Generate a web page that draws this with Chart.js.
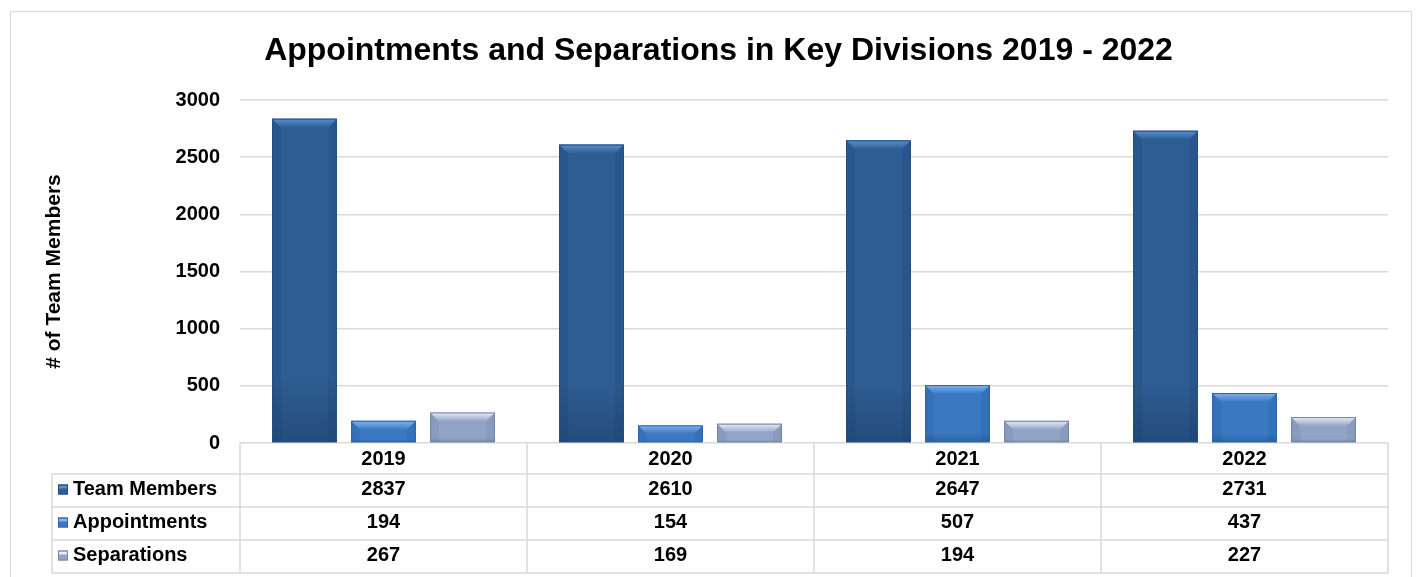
<!DOCTYPE html>
<html>
<head>
<meta charset="utf-8">
<title>Appointments and Separations in Key Divisions 2019 - 2022</title>
<script src="https://cdn.jsdelivr.net/npm/chart.js@4.4.1/dist/chart.umd.min.js"></script>
<style>
  html, body { margin: 0; padding: 0; background: #fff; overflow: hidden; }
  #frame { position: absolute; left: 10px; top: 11px; width: 1400px; height: 600px; border: 1px solid #d9d9d9; }
  #wrap { position: absolute; left: 0; top: 0; width: 1419px; height: 577px; }
</style>
</head>
<body>
<div id="frame"></div>
<div id="wrap"><canvas id="divisionChart"></canvas></div>
<script>
const years = ['2019', '2020', '2021', '2022'];
const teamMembers = [2837, 2610, 2647, 2731];
const appointments = [194, 154, 507, 437];
const separations = [267, 169, 194, 227];
const seriesNames = ['Team Members', 'Appointments', 'Separations'];

const FONT = 'Arial, "Liberation Sans", sans-serif';

// face / light top bevel / darker side strips / outline, one per series
const barLooks = [
    { face: '#2d5d93', top: '#5b8fd0', side: 'rgba(0, 20, 50, 0.08)', bottom: 'rgba(0, 15, 40, 0.2)', edge: '#244d7c' },
    { face: '#3a78c2', top: '#86b4ea', side: 'rgba(0, 30, 80, 0.07)', bottom: 'rgba(0, 25, 70, 0.2)', edge: '#2f64a6' },
    { face: '#92a4c6', top: '#e6edf8', side: 'rgba(30, 45, 80, 0.07)', bottom: 'rgba(20, 35, 70, 0.18)', edge: '#75869f' }
];

function poly(ctx, pts) {
    ctx.beginPath();
    ctx.moveTo(pts[0][0], pts[0][1]);
    for (let i = 1; i < pts.length; i++) ctx.lineTo(pts[i][0], pts[i][1]);
    ctx.closePath();
    ctx.fill();
}

// Excel style bevel drawn over each bar element
const bevelBars = {
    id: 'bevelBars',
    afterDatasetsDraw(chart) {
        const ctx = chart.ctx;
        chart.data.datasets.forEach((ds, i) => {
            const look = barLooks[i];
            chart.getDatasetMeta(i).data.forEach(bar => {
                const L = bar.x - bar.width / 2, R = bar.x + bar.width / 2;
                const T = bar.y, B = bar.base;
                const b = Math.min(9, (B - T) / 2, bar.width / 2);
                ctx.save();
                // soft lower shading of the face
                const fg = ctx.createLinearGradient(0, T + b, 0, B);
                fg.addColorStop(0, 'rgba(255,255,255,0)');
                fg.addColorStop(0.8, 'rgba(0,0,0,0)');
                fg.addColorStop(1, look.bottom);
                ctx.fillStyle = fg;
                ctx.fillRect(L, T + b, R - L, B - T - b);
                ctx.fillStyle = look.side;
                poly(ctx, [[L, T], [L + b, T + b], [L + b, B], [L, B]]);
                poly(ctx, [[R, T], [R - b, T + b], [R - b, B], [R, B]]);
                const g = ctx.createLinearGradient(0, T, 0, T + b);
                g.addColorStop(0, look.top);
                g.addColorStop(1, look.face);
                ctx.fillStyle = g;
                poly(ctx, [[L, T], [R, T], [R - b, T + b], [L + b, T + b]]);
                ctx.strokeStyle = look.edge;
                ctx.lineWidth = 1;
                ctx.strokeRect(L + 0.5, T + 0.5, R - L - 1, B - T - 1);
                ctx.restore();
            });
        });
    }
};

// data table under the plot, columns follow the category scale
const dataTable = {
    id: 'dataTable',
    afterDraw(chart) {
        const { ctx, chartArea } = chart;
        const x = chart.scales.x;
        const colW = (chartArea.right - chartArea.left) / years.length;
        const rows = [chartArea.bottom, chartArea.bottom + 31, chartArea.bottom + 64,
                      chartArea.bottom + 97, chartArea.bottom + 130];
        const labelLeft = 52;
        const values = [teamMembers, appointments, separations];

        ctx.save();
        ctx.strokeStyle = '#d9d9d9';
        ctx.lineWidth = 1.5;
        ctx.beginPath();
        for (let r = 1; r < rows.length; r++) {
            ctx.moveTo(labelLeft, rows[r]);
            ctx.lineTo(chartArea.right, rows[r]);
        }
        ctx.moveTo(labelLeft, rows[1]);
        ctx.lineTo(labelLeft, rows[4]);
        for (let i = 0; i <= years.length; i++) {
            const cx = chartArea.left + i * colW;
            ctx.moveTo(cx, rows[0]);
            ctx.lineTo(cx, rows[4]);
        }
        ctx.stroke();

        ctx.fillStyle = '#000';
        ctx.font = 'bold 20px ' + FONT;
        ctx.textBaseline = 'middle';
        ctx.textAlign = 'center';
        years.forEach((yr, i) => {
            ctx.fillText(yr, x.getPixelForValue(i), (rows[0] + rows[1]) / 2 + 1);
        });
        values.forEach((vals, r) => {
            const mid = (rows[r + 1] + rows[r + 2]) / 2 - 1;
            vals.forEach((v, i) => ctx.fillText(String(v), x.getPixelForValue(i), mid));
        });

        ctx.textAlign = 'left';
        seriesNames.forEach((name, r) => {
            const mid = (rows[r + 1] + rows[r + 2]) / 2 - 1;
            const look = barLooks[r];
            ctx.fillStyle = look.face;
            ctx.fillRect(58, mid - 5, 10, 10);
            ctx.fillStyle = look.top;
            ctx.fillRect(59, mid - 4, 8, 3);
            ctx.strokeStyle = look.edge;
            ctx.lineWidth = 1;
            ctx.strokeRect(58.5, mid - 4.5, 9, 9);
            ctx.fillStyle = '#000';
            ctx.fillText(name, 73, mid);
        });
        ctx.restore();
    }
};

const ctx = document.getElementById('divisionChart');

new Chart(ctx, {
    type: 'bar',
    data: {
        labels: years,
        datasets: [
            { label: seriesNames[0], data: teamMembers, backgroundColor: barLooks[0].face },
            { label: seriesNames[1], data: appointments, backgroundColor: barLooks[1].face },
            { label: seriesNames[2], data: separations, backgroundColor: barLooks[2].face }
        ]
    },
    options: {
        responsive: true,
        maintainAspectRatio: false,
        animation: false,
        categoryPercentage: 0.826,
        barPercentage: 0.82,
        layout: {
            padding: { left: 49, right: 31, top: 0, bottom: 134 }
        },
        plugins: {
            legend: { display: false },
            tooltip: { enabled: false },
            title: {
                display: true,
                text: 'Appointments and Separations in Key Divisions 2019 - 2022',
                color: '#000',
                font: { family: FONT, size: 32, weight: 'bold', lineHeight: 1.2 },
                padding: { top: 32, bottom: 29.6 }
            }
        },
        scales: {
            x: {
                display: false
            },
            y: {
                min: 0,
                max: 3000,
                ticks: {
                    stepSize: 500,
                    padding: 20,
                    color: '#000',
                    font: { family: FONT, size: 20, weight: 'bold' },
                    callback: value => String(value)
                },
                grid: {
                    color: '#d9d9d9',
                    lineWidth: 1.5,
                    drawTicks: false
                },
                border: { display: false },
                title: {
                    display: true,
                    text: '# of Team Members',
                    color: '#000',
                    font: { family: FONT, size: 21, weight: 'bold', lineHeight: 1.2 },
                    padding: { top: -7, bottom: 0 }
                },
                afterFit(axis) {
                    axis.width = 191;
                }
            }
        }
    },
    plugins: [bevelBars, dataTable]
});
</script>
</body>
</html>
